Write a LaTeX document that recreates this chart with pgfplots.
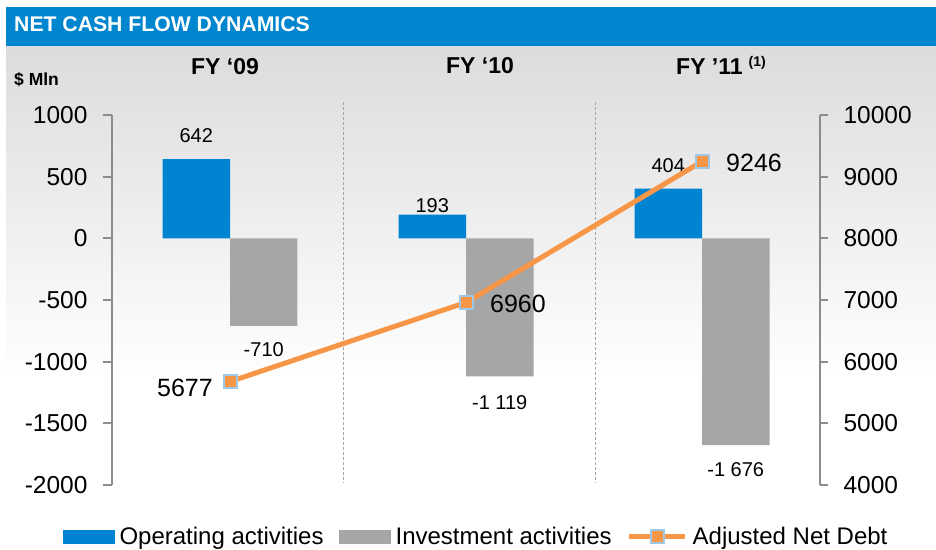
\documentclass[border=0pt]{standalone}
\usepackage{pgfplots}
\pgfplotsset{compat=1.18}
\usepackage{pgfplotstable}
\usepackage{fontspec}
\setmainfont{Liberation Sans}
\definecolor{titleblue}{RGB}{0,133,207}
\definecolor{opblue}{RGB}{0,132,209}
\definecolor{invgray}{RGB}{166,166,166}
\definecolor{debtorange}{RGB}{247,150,70}
\definecolor{markblue}{RGB}{157,200,232}
\definecolor{axgray}{RGB}{140,140,140}
\definecolor{bggray}{RGB}{220,220,220}
\definecolor{sepgray}{RGB}{165,165,165}

\pgfplotstableread{
x op opdy inv invdy
0 642 24 -710 -23.5
1 193 9 -1119 -26
2 404 23 -1676 -24.5
}\cashtable
\pgfplotstableread{
x debt dx dy
0 5677 -45 -6
1 6960 52 -1
2 9246 52 -1
}\debttable

\begin{document}
\begin{tikzpicture}
\path[use as bounding box] (0pt,0pt) rectangle (936pt,549pt);
\shade[top color=bggray, bottom color=white] (6pt,169pt) rectangle (936pt,503pt);
\fill[titleblue] (6pt,503pt) rectangle (936pt,542pt);
\node[anchor=west, text=white, font=\bfseries\fontsize{21.2}{25}\selectfont, inner sep=0pt] at (14pt,525pt) {NET CASH FLOW DYNAMICS};
\node[anchor=west, font=\bfseries\fontsize{17.5}{20}\selectfont, inner sep=0pt] at (14pt,469pt) {\$ Mln};
\node[font=\bfseries\fontsize{23}{27}\selectfont, inner sep=0pt] at (225pt,482pt) {FY ‘09};
\node[font=\bfseries\fontsize{23}{27}\selectfont, inner sep=0pt] at (480pt,483pt) {FY ‘10};
\node[anchor=west, font=\bfseries\fontsize{23}{27}\selectfont, inner sep=0pt] at (676pt,484pt) {FY ’11\hspace{6pt}\raisebox{0.35em}{\fontsize{14}{16}\selectfont(1)}};

\begin{axis}[
  at={(112pt,64pt)}, anchor=south west, scale only axis,
  width=708pt, height=370pt,
  xmin=-0.5, xmax=2.5, ymin=-2000, ymax=1000, ytick distance=500,
  axis x line=none, axis y line*=left,
  axis line style={-, draw=axgray, line width=2pt},
  ytick style={draw=axgray, line width=2pt},
  tick align=outside, major tick length=9pt,
  ticklabel style={font=\fontsize{24.5}{28}\selectfont},
  yticklabel style={xshift=-12pt},
  /pgf/number format/assume math mode=true,
  /pgf/number format/1000 sep={},
  clip=false,
  legend columns=3,
  legend cell align=left,
  legend style={at={(0.5134,-0.1405)}, anchor=center, draw=none, fill=none,
    font=\fontsize{24}{28}\selectfont,
    nodes={inner sep=1pt},
    /tikz/every odd column/.append style={column sep=4pt},
    /tikz/every even column/.append style={column sep=14pt}},
]
\draw[sepgray, line width=1pt, dash pattern=on 3pt off 2pt] (axis cs:0.483,1105) -- (axis cs:0.483,-1984);
\draw[sepgray, line width=1pt, dash pattern=on 3pt off 2pt] (axis cs:1.547,1105) -- (axis cs:1.547,-1984);
\addplot[ybar, bar width=0.286, bar shift=-0.143, fill=opblue, draw=none,
  point meta=y, visualization depends on={\thisrow{opdy}\as\dy},
  nodes near coords={\pgfmathprintnumber[1000 sep={\ }]{\pgfplotspointmeta}},
  nodes near coords style={anchor=center, xshift=-33.75pt, yshift=\dy pt, text=black, font=\fontsize{20}{24}\selectfont, inner sep=0pt},
  legend image code/.code={\fill[opblue] (0pt,-7pt) rectangle (52pt,7pt);}
] table[x=x, y=op] {\cashtable};
\addlegendentry{Operating activities}
\addplot[ybar, bar width=0.286, bar shift=0.143, fill=invgray, draw=none,
  point meta=y, visualization depends on={\thisrow{invdy}\as\dy},
  nodes near coords={\pgfmathprintnumber[1000 sep={\ }]{\pgfplotspointmeta}},
  nodes near coords style={anchor=center, xshift=33.75pt, yshift=\dy pt, text=black, font=\fontsize{20}{24}\selectfont, inner sep=0pt},
  legend image code/.code={\fill[invgray] (0pt,-7pt) rectangle (52pt,7pt);}
] table[x=x, y=inv] {\cashtable};
\addlegendentry{Investment activities}
\addlegendimage{legend image code/.code={\draw[debtorange, line width=5pt] (0pt,0pt) -- (56pt,0pt); \filldraw[fill=debtorange, draw=markblue, line width=2pt] (21.5pt,-6.5pt) rectangle (34.5pt,6.5pt);}}
\addlegendentry{Adjusted Net Debt}
\end{axis}

\begin{axis}[
  at={(112pt,64pt)}, anchor=south west, scale only axis,
  width=708pt, height=370pt,
  xmin=-0.5, xmax=2.5, ymin=4000, ymax=10000, ytick distance=1000,
  scaled y ticks=false,
  axis x line=none, axis y line*=right,
  axis line style={-, draw=axgray, line width=2pt},
  ytick style={draw=axgray, line width=2pt},
  tick align=outside, major tick length=8pt,
  ticklabel style={font=\fontsize{24.5}{28}\selectfont},
  yticklabel style={xshift=12pt},
  /pgf/number format/assume math mode=true,
  /pgf/number format/1000 sep={},
  clip=false,
]
\addplot[debtorange, line width=5pt, mark=square*, mark size=6.5pt,
  mark options={fill=debtorange, draw=markblue, line width=2pt},
  point meta=y,
  visualization depends on={\thisrow{dx}\as\dx},
  visualization depends on={\thisrow{dy}\as\dy},
  nodes near coords={\pgfmathprintnumber{\pgfplotspointmeta}},
  nodes near coords style={anchor=center, xshift=\dx pt, yshift=\dy pt, text=black, font=\fontsize{25}{30}\selectfont, inner sep=0pt}
] table[x=x, y=debt] {\debttable};
\end{axis}
\end{tikzpicture}
\end{document}
